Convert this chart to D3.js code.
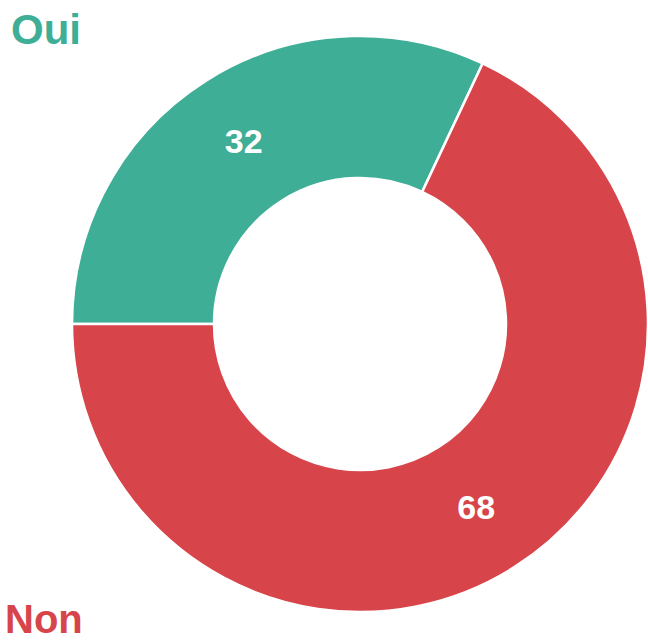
<!DOCTYPE html>
<html>
<head>
<meta charset="utf-8">
<script src="https://cdn.jsdelivr.net/npm/d3@7"></script>
<style>
html,body{margin:0;padding:0;background:#fff;}
svg{display:block;}
</style>
</head>
<body>
<svg id="chart" width="648" height="643"></svg>
<script>
const categories = ["Oui", "Non"];
const values = [32, 68];
const colors = ["#3eae96", "#d7444a"];

const svg = d3.select("#chart");
const cx = 360, cy = 324, outerR = 288, innerR = 146;

const pie = d3.pie().sort(null).value(d => d.value)
  .startAngle(-Math.PI / 2).endAngle(3 * Math.PI / 2);
const data = categories.map((c, i) => ({ cat: c, value: values[i], color: colors[i] }));
const arcs = pie(data);
const arc = d3.arc().innerRadius(innerR).outerRadius(outerR);

const g = svg.append("g").attr("transform", `translate(${cx},${cy})`);
g.selectAll("path").data(arcs).enter().append("path")
  .attr("d", arc)
  .attr("fill", d => d.data.color)
  .attr("stroke", "#fff")
  .attr("stroke-width", 2.5);

g.selectAll("text.val").data(arcs).enter().append("text")
  .attr("class", "val")
  .attr("transform", d => `translate(${arc.centroid(d)})`)
  .attr("text-anchor", "middle")
  .attr("dy", "0.35em")
  .attr("fill", "#fff")
  .style("font-family", "'Liberation Sans', Arial, sans-serif")
  .style("font-weight", "bold")
  .style("font-size", "34px")
  .text(d => d.data.value);

const labelPos = [[11, 44, 42], [5, 633, 40]];
svg.selectAll("text.cat").data(data).enter().append("text")
  .attr("class", "cat")
  .attr("x", (d, i) => labelPos[i][0])
  .attr("y", (d, i) => labelPos[i][1])
  .attr("fill", d => d.color)
  .style("font-family", "'Liberation Sans', Arial, sans-serif")
  .style("font-weight", "bold")
  .style("font-size", (d, i) => labelPos[i][2] + "px")
  .text(d => d.cat);
</script>
</body>
</html>
